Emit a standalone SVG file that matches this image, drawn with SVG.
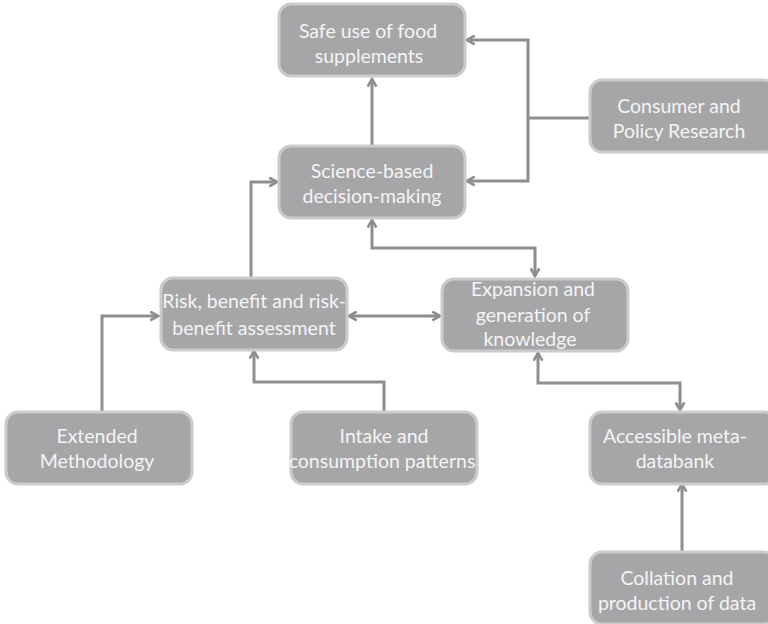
<svg xmlns="http://www.w3.org/2000/svg" width="768" height="624" viewBox="0 0 768 624">
  <style>
    .box { fill: #a6a6a9; stroke: #cbcbcd; stroke-width: 3; }
    .lbl { font-family: Lato, "Open Sans", "Liberation Sans", sans-serif; font-size: 19.5px; fill: #f4f4f4; text-anchor: middle; }
    .wire { fill: none; stroke: #8e8e92; stroke-width: 3; }
    .one { marker-end: url(#arrow); }
    .two { marker-start: url(#arrow); marker-end: url(#arrow); }
  </style>
  <defs>
    <marker id="arrow" viewBox="0 0 10 10" refX="8.5" refY="5" markerWidth="11" markerHeight="11" markerUnits="userSpaceOnUse" orient="auto-start-reverse">
      <path d="M1.5,1 L8.5,5 L1.5,9" fill="none" stroke="#8e8e92" stroke-width="2.4"/>
    </marker>
  </defs>
  <rect width="768" height="624" fill="#ffffff"/>

  <g id="connectors">
    <path class="wire one" d="M372,146 L372,79"/>
    <path class="wire two" d="M467,40 L528,40 L528,181 L467,181"/>
    <path class="wire" d="M589,118 L528,118"/>
    <path class="wire one" d="M251,277 L251,182 L277,182"/>
    <path class="wire two" d="M372,220 L372,248 L535,248 L535,276"/>
    <path class="wire two" d="M349,316 L440,316"/>
    <path class="wire one" d="M102,411 L102,316 L158,316"/>
    <path class="wire one" d="M384,411 L384,382 L254,382 L254,351"/>
    <path class="wire two" d="M538,353 L538,383 L680,383 L680,410"/>
    <path class="wire one" d="M682,552 L682,484"/>
  </g>

  <g id="safe-use">
    <rect class="box" x="279" y="4" width="186" height="72" rx="12"/>
    <text class="lbl" x="368" y="38">Safe use of food</text>
    <text class="lbl" x="369" y="63">supplements</text>
  </g>
  <g id="science-based">
    <rect class="box" x="279" y="146" width="186" height="72" rx="12"/>
    <text class="lbl" x="372" y="178">Science-based</text>
    <text class="lbl" x="372" y="203">decision-making</text>
  </g>
  <g id="consumer-policy">
    <rect class="box" x="590" y="80" width="186" height="72" rx="12"/>
    <text class="lbl" x="679" y="113">Consumer and</text>
    <text class="lbl" x="679" y="138">Policy Research</text>
  </g>
  <g id="risk-benefit">
    <rect class="box" x="161" y="278" width="186" height="72" rx="12"/>
    <text class="lbl" x="254" y="308">Risk, benefit and risk-</text>
    <text class="lbl" x="254" y="335">benefit assessment</text>
  </g>
  <g id="expansion">
    <rect class="box" x="442" y="279" width="186" height="72" rx="12"/>
    <text class="lbl" x="533" y="296">Expansion and</text>
    <text class="lbl" x="533" y="322">generation of</text>
    <text class="lbl" x="530" y="346">knowledge</text>
  </g>
  <g id="extended-methodology">
    <rect class="box" x="6" y="412" width="186" height="72" rx="12"/>
    <text class="lbl" x="97" y="443">Extended</text>
    <text class="lbl" x="97" y="468">Methodology</text>
  </g>
  <g id="intake-consumption">
    <rect class="box" x="291" y="412" width="186" height="72" rx="12"/>
    <text class="lbl" x="384" y="443">Intake and</text>
    <text class="lbl" x="382" y="468">consumption patterns</text>
  </g>
  <g id="meta-databank">
    <rect class="box" x="590" y="412" width="186" height="72" rx="12"/>
    <text class="lbl" x="675" y="443">Accessible meta-</text>
    <text class="lbl" x="675" y="468">databank</text>
  </g>
  <g id="collation">
    <rect class="box" x="590" y="552" width="186" height="72" rx="12"/>
    <text class="lbl" x="677" y="585">Collation and</text>
    <text class="lbl" x="677" y="610">production of data</text>
  </g>
</svg>
